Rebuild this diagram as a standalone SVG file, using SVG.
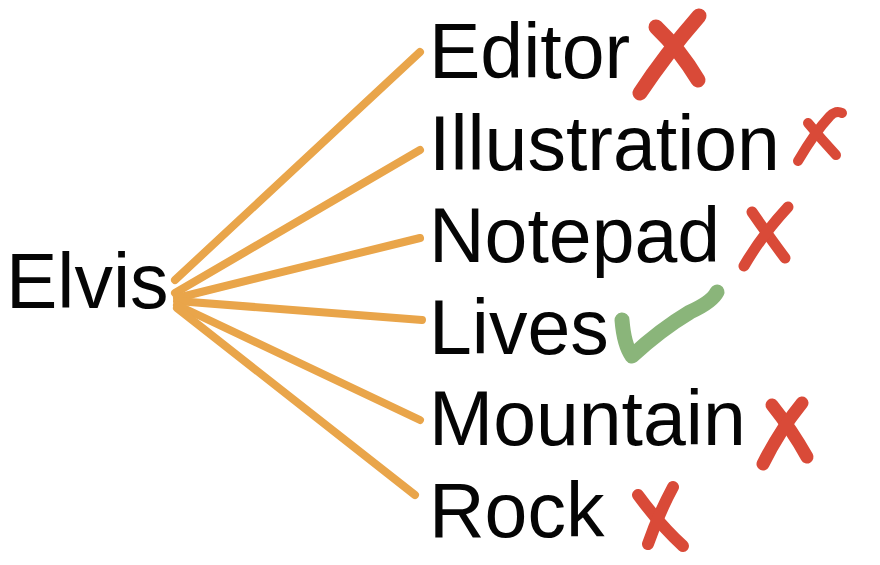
<svg xmlns="http://www.w3.org/2000/svg" width="880" height="565" viewBox="0 0 880 565">
<style>
.t{font-family:"Liberation Sans",Arial,sans-serif;font-size:77px;fill:#050505}
.c{stroke:#E9A54A;stroke-width:8;stroke-linecap:round;fill:none}
.x{stroke:#D94A38;stroke-linecap:round;stroke-linejoin:round;fill:none}
.ok{stroke:#8AB57A;stroke-linecap:round;stroke-linejoin:round;fill:none}
</style>
<rect width="880" height="565" fill="#fff"/>
<g id="connectors">
<line class="c" x1="175" y1="280" x2="420" y2="52"/>
<line class="c" x1="175" y1="293" x2="420" y2="150"/>
<line class="c" x1="177" y1="298" x2="420" y2="238"/>
<line class="c" x1="177" y1="301" x2="422" y2="320"/>
<line class="c" x1="177" y1="305" x2="420" y2="420"/>
<line class="c" x1="177" y1="308" x2="415" y2="495"/>
</g>
<g id="elvis"><text class="t" x="6" y="308" font-size="75">Elvis</text></g>
<g id="editor"><text class="t" x="429" y="78">Editor</text>
<path class="x" stroke-width="15" d="M656,27 Q680,50 698,80"/>
<path class="x" stroke-width="15" d="M699,16 Q665,55 640,93"/></g>
<g id="illustration"><text class="t" x="429" y="170">Illustration</text>
<path class="x" stroke-width="10" d="M808,123 Q822,140 836,155"/>
<path class="x" stroke-width="10" d="M798,161 Q815,132 830,116 Q836,110 842,113"/></g>
<g id="notepad"><text class="t" x="429" y="262">Notepad</text>
<path class="x" stroke-width="11" d="M752,212 Q770,238 785,258"/>
<path class="x" stroke-width="11" d="M788,207 Q762,235 744,266"/></g>
<g id="lives"><text class="t" x="429" y="354">Lives</text>
<path class="ok" stroke-width="15" d="M622,320 Q624,345 632,356 Q660,330 690,312 Q712,302 717,292"/></g>
<g id="mountain"><text class="t" x="429" y="445">Mountain</text>
<path class="x" stroke-width="13" d="M772,405 Q792,430 807,457"/>
<path class="x" stroke-width="13" d="M802,403 Q780,430 763,464"/></g>
<g id="rock"><text class="t" x="429" y="537">Rock</text>
<path class="x" stroke-width="12" d="M638,495 Q660,525 683,546"/>
<path class="x" stroke-width="12" d="M673,487 Q658,515 648,544"/></g>
</svg>
